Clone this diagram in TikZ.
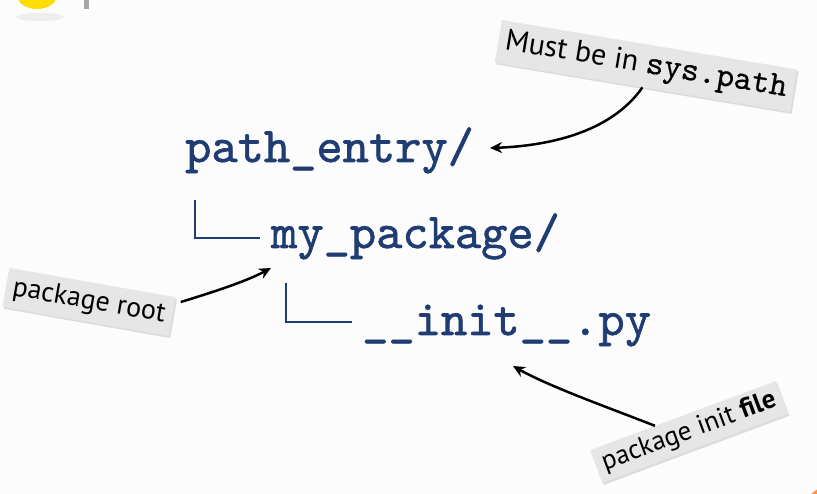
\documentclass[tikz,border=0pt]{standalone}
\usepackage{fontspec}
\setmainfont{PT Sans}
\newfontfamily\treefont{lmmono10-regular}[Extension=.otf,FakeBold=1.2]
\newfontfamily\labmono{lmmono10-regular}[Extension=.otf,FakeBold=0.6]
\usetikzlibrary{arrows.meta,calc,shadows}
\definecolor{treeblue}{HTML}{1F3C73}
\definecolor{labgray}{HTML}{E6E6E6}
\definecolor{bgc}{HTML}{FCFCFD}
\tikzset{
  treetext/.style={anchor=base west,inner sep=0pt,text=treeblue,font=\treefont\fontsize{50}{50}\selectfont},
  treeline/.style={draw=treeblue,line width=2.7pt},
  callout/.style={fill=labgray,inner xsep=7pt,inner ysep=7pt,text=black,
    drop shadow={shadow xshift=1.5pt,shadow yshift=-2pt,opacity=0.25,fill=gray}},
  pointer/.style={draw=black,line width=2.5pt,-{Stealth[length=12pt,width=11pt]}}
}
\begin{document}
\begin{tikzpicture}[x=1pt,y=-1pt]
\useasboundingbox (0,0) rectangle (817,494);
\fill[bgc] (0,0) rectangle (817,494);
% decorations of slide
\fill[gray!20,opacity=0.6] (40,17) ellipse (24 and 4);
\fill[yellow!80!orange] (37,-3) ellipse (19 and 12);
\fill[gray!70] (84,0) rectangle (89,9);
\fill[orange!80!red!70] (830,512) circle (26);
% tree
\node[treetext] (pe) at (185,162) {path\_entry/};
\node[treetext] (mp) at (271,248) {my\_package/};
\node[treetext] (ini) at (362,335) {\_\_init\_\_.py};
\coordinate (c1) at (195,200);
\coordinate (c2) at (286,283);
\draw[treeline] (c1) |- ($(mp.base west)+(-11,-10)$);
\draw[treeline] (c2) |- ($(ini.base west)+(-10,-13)$);
% callouts
\node[callout,rotate=-9.5,font=\fontsize{30}{32}\selectfont] (lab1) at (646,66)
  {Must be in {\labmono\fontsize{34}{34}\selectfont sys.path}};
\node[callout,rotate=-10,font=\fontsize{28}{30}\selectfont] (lab2) at (89,302) {package root};
\node[callout,rotate=20.4,inner ysep=5pt,font=\fontsize{27}{29}\selectfont] (lab3) at (689,432) {package init \textbf{file}};
% pointers
\coordinate (t1) at (490,148);
\coordinate (t2) at (271,268);
\coordinate (t3) at (513,366);
\draw[pointer] (lab1.south) .. controls (610,134) and (545,146) .. (t1);
\draw[pointer] ($(lab2.north east)+(5,5)$) .. controls (210,293) and (245,282) .. (t2);
\draw[pointer] ($(lab3.north)!0.3!(lab3.north west)$) .. controls (615,410) and (550,387) .. (t3);
\end{tikzpicture}
\end{document}
